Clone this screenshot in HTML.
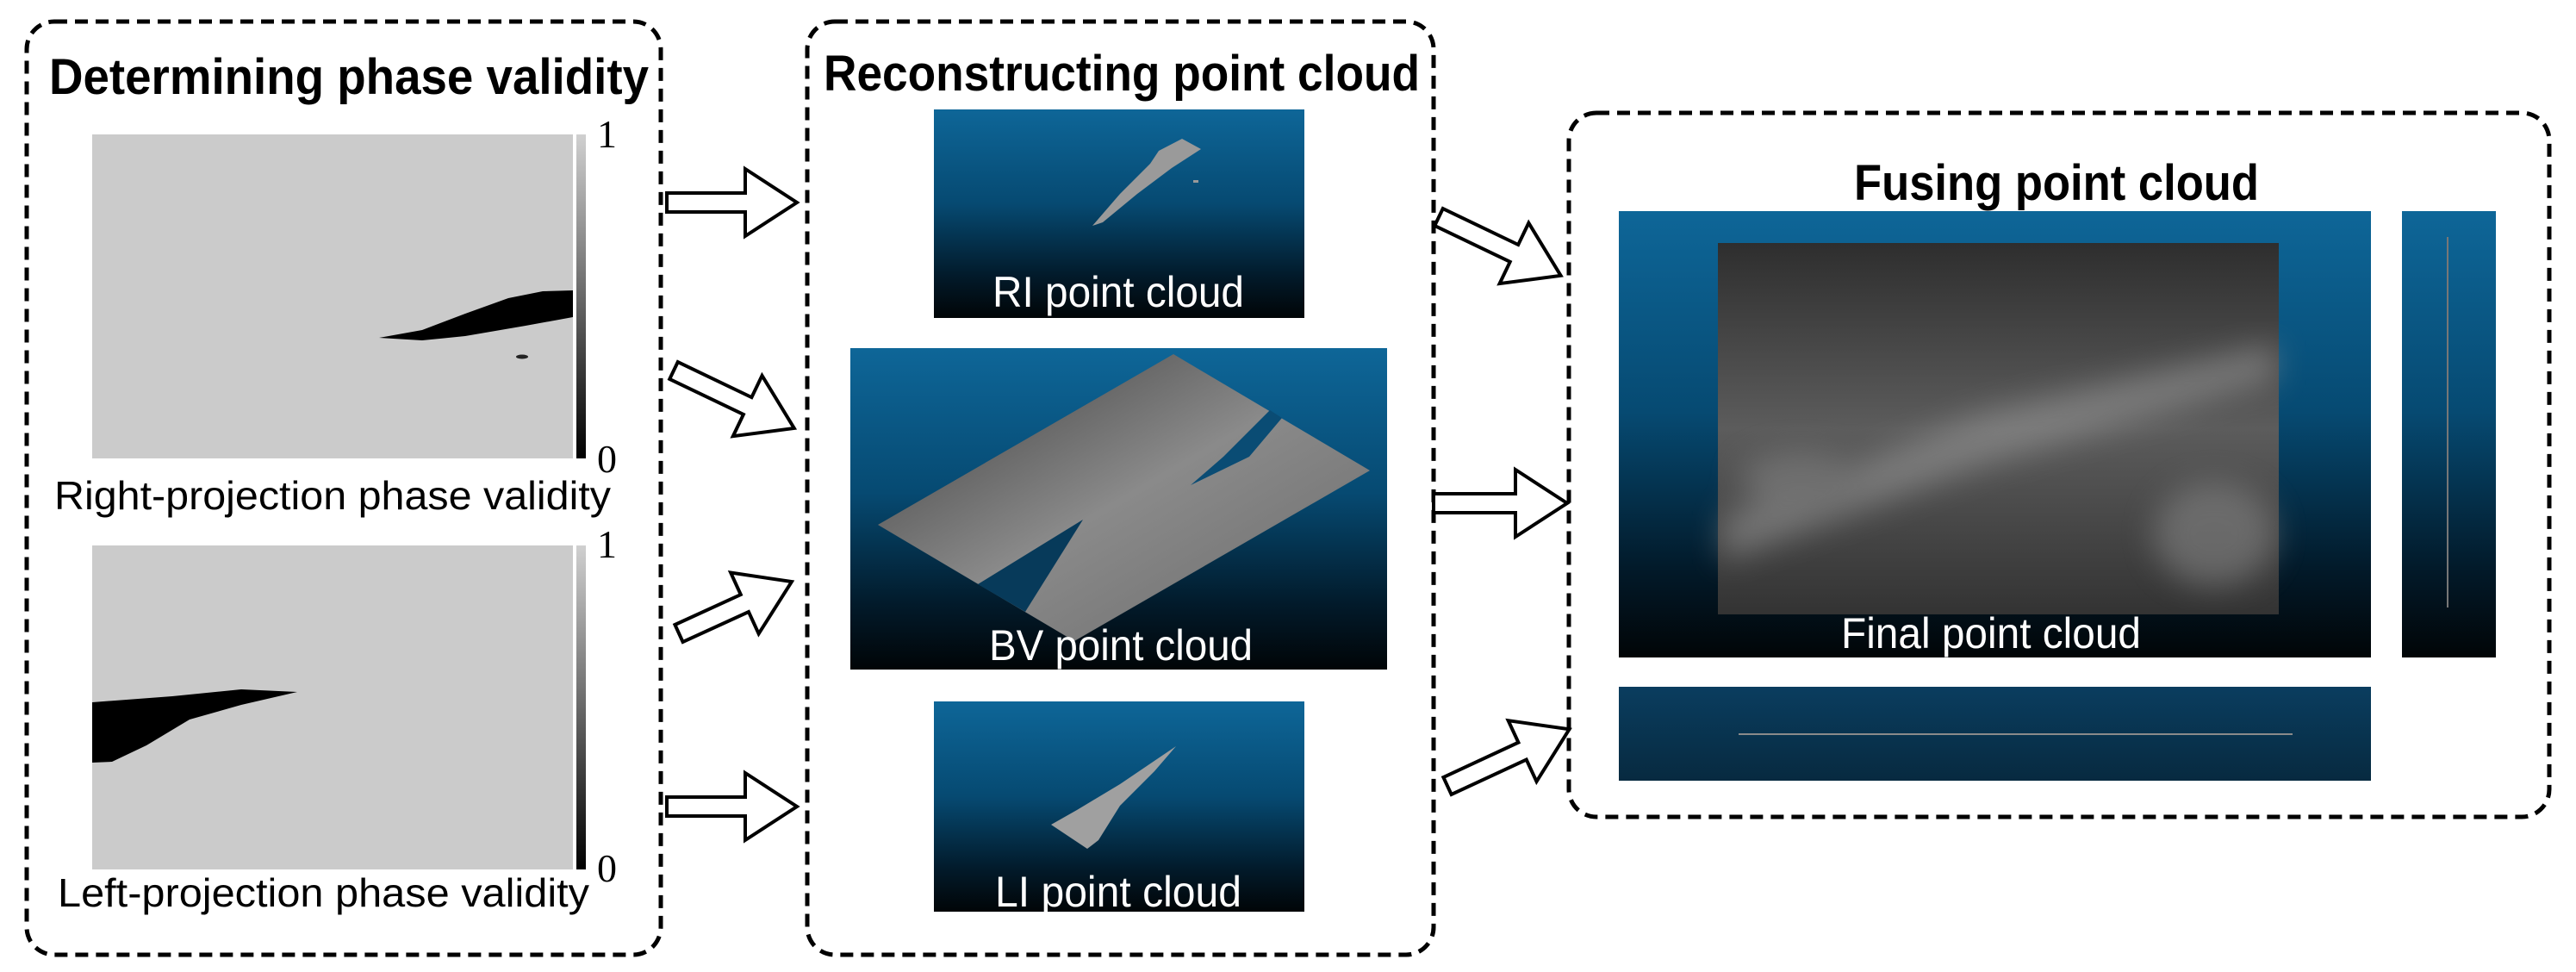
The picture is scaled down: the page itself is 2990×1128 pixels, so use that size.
<!DOCTYPE html>
<html><head><meta charset="utf-8"><style>
html,body{margin:0;padding:0;background:#fff;}
svg{display:block;}
</style></head><body>
<svg width="2990" height="1128" viewBox="0 0 2990 1128" xmlns="http://www.w3.org/2000/svg">
<defs>
<linearGradient id="blue" x1="0" y1="0" x2="0" y2="1">
<stop offset="0" stop-color="#0e6698"/><stop offset="0.45" stop-color="#064a72"/><stop offset="0.8" stop-color="#021a2a"/><stop offset="1" stop-color="#010507"/>
</linearGradient>
<linearGradient id="strip" x1="0" y1="0" x2="0" y2="1">
<stop offset="0" stop-color="#0a3d5f"/><stop offset="1" stop-color="#072a40"/>
</linearGradient>
<linearGradient id="cbar" x1="0" y1="0" x2="0" y2="1">
<stop offset="0" stop-color="#d0d0d0"/><stop offset="1" stop-color="#000"/>
</linearGradient>
<linearGradient id="plate" x1="0" y1="0" x2="1" y2="1">
<stop offset="0" stop-color="#3a3a3a"/><stop offset="0.5" stop-color="#8a8a8a"/><stop offset="1" stop-color="#6a6a6a"/>
</linearGradient>
<linearGradient id="fin" x1="0" y1="0" x2="0" y2="1">
<stop offset="0" stop-color="#2e2e2e"/><stop offset="0.5" stop-color="#5c5c5c"/><stop offset="1" stop-color="#333"/>
</linearGradient>
<filter id="bl"><feGaussianBlur stdDeviation="18"/></filter>
</defs>

<g fill="none" stroke="#000" stroke-width="5" stroke-dasharray="15 9">
<rect x="31" y="25" width="736" height="1083" rx="32"/>
<rect x="937" y="25" width="727" height="1083" rx="32"/>
<rect x="1821" y="131" width="1138" height="817" rx="32"/>
</g>

<text x="57" y="109" font-family="Liberation Sans, sans-serif" font-weight="bold" font-size="58" textLength="696" lengthAdjust="spacingAndGlyphs">Determining phase validity</text>
<rect x="107" y="156" width="558" height="376" fill="#cbcbcb"/>
<rect x="669" y="156" width="11" height="376" fill="url(#cbar)"/>
<polygon points="440,392 490,383 540,364 590,346 630,338 665,337 665,368 610,378 540,390 490,395" fill="#000"/>
<ellipse cx="606" cy="414" rx="7" ry="2.5" fill="#222"/>
<text x="693" y="171" font-family="Liberation Serif, serif" font-size="46">1</text>
<text x="693" y="548" font-family="Liberation Serif, serif" font-size="46">0</text>
<text x="63" y="591" font-family="Liberation Sans, sans-serif" font-size="46" textLength="646" lengthAdjust="spacingAndGlyphs">Right-projection phase validity</text>

<rect x="107" y="633" width="558" height="376" fill="#cbcbcb"/>
<rect x="669" y="633" width="11" height="376" fill="url(#cbar)"/>
<polygon points="107,815 200,808 280,800 345,803 280,818 220,835 170,865 130,884 107,885" fill="#000"/>
<text x="693" y="647" font-family="Liberation Serif, serif" font-size="46">1</text>
<text x="693" y="1023" font-family="Liberation Serif, serif" font-size="46">0</text>
<text x="67" y="1052" font-family="Liberation Sans, sans-serif" font-size="46" textLength="617" lengthAdjust="spacingAndGlyphs">Left-projection phase validity</text>

<text x="956" y="105" font-family="Liberation Sans, sans-serif" font-weight="bold" font-size="58" textLength="692" lengthAdjust="spacingAndGlyphs">Reconstructing point cloud</text>
<rect x="1084" y="127" width="430" height="242" fill="url(#blue)"/>
<polygon points="1372,161 1394,173 1360,195 1320,225 1280,258 1268,262 1300,225 1335,190 1345,175" fill="#9a9a9a"/>
<rect x="1385" y="209" width="6" height="3" fill="#999"/>
<text x="1298" y="356" text-anchor="middle" font-family="Liberation Sans, sans-serif" font-size="50" fill="#fff" textLength="292" lengthAdjust="spacingAndGlyphs">RI point cloud</text>

<rect x="987" y="404" width="623" height="373" fill="url(#blue)"/>
<polygon points="1019,609 1362,411 1590,546 1247,744" fill="url(#plate)"/>
<polygon points="1474,476 1488,485 1450,530 1382,563 1420,530" fill="#0a4c74"/>
<polygon points="1257,603 1135,678 1190,710" fill="#073a5a"/>
<text x="1301" y="766" text-anchor="middle" font-family="Liberation Sans, sans-serif" font-size="50" fill="#fff" textLength="306" lengthAdjust="spacingAndGlyphs">BV point cloud</text>

<rect x="1084" y="814" width="430" height="244" fill="url(#blue)"/>
<polygon points="1365,866 1340,895 1300,935 1275,975 1262,985 1220,957 1250,940 1300,910" fill="#a0a0a0"/>
<text x="1298" y="1052" text-anchor="middle" font-family="Liberation Sans, sans-serif" font-size="50" fill="#fff" textLength="286" lengthAdjust="spacingAndGlyphs">LI point cloud</text>

<text x="2152" y="232" font-family="Liberation Sans, sans-serif" font-weight="bold" font-size="58" textLength="470" lengthAdjust="spacingAndGlyphs">Fusing point cloud</text>
<rect x="1879" y="245" width="873" height="518" fill="url(#blue)"/>
<rect x="1994" y="282" width="651" height="431" fill="url(#fin)"/>
<g opacity="0.55" filter="url(#bl)">
<polygon points="2000,600 2300,480 2640,400 2640,440 2300,540 2000,650" fill="#9a9a9a"/>
<ellipse cx="2090" cy="555" rx="70" ry="30" fill="#888"/>
<ellipse cx="2570" cy="620" rx="70" ry="60" fill="#888"/>
</g>
<text x="2311" y="752" text-anchor="middle" font-family="Liberation Sans, sans-serif" font-size="50" fill="#fff" textLength="348" lengthAdjust="spacingAndGlyphs">Final point cloud</text>
<rect x="2788" y="245" width="109" height="518" fill="url(#blue)"/>
<rect x="2840" y="275" width="2" height="430" fill="#777"/>
<rect x="1879" y="797" width="873" height="109" fill="url(#strip)"/>
<rect x="2018" y="851" width="643" height="2" fill="#8a8a8a"/>

<g fill="#fff" stroke="#000" stroke-width="4" stroke-linejoin="miter">
<polygon transform="translate(774,235)" points="0,-11 91,-11 91,-39 151,0 91,39 91,11 0,11"/>
<polygon transform="translate(782,430) rotate(25.6)" points="0,-11 95,-11 95,-39 155,0 95,39 95,11 0,11"/>
<polygon transform="translate(788,735) rotate(-24.6)" points="0,-11 84,-11 84,-39 144,0 84,39 84,11 0,11"/>
<polygon transform="translate(774,936)" points="0,-11 91,-11 91,-39 151,0 91,39 91,11 0,11"/>
<polygon transform="translate(1670,252) rotate(25.6)" points="0,-11 97,-11 97,-39 157,0 97,39 97,11 0,11"/>
<polygon transform="translate(1664,584)" points="0,-11 95,-11 95,-39 155,0 95,39 95,11 0,11"/>
<polygon transform="translate(1680,912) rotate(-24.9)" points="0,-11 96,-11 96,-39 156,0 96,39 96,11 0,11"/>
</g>
</svg>
</body></html>
